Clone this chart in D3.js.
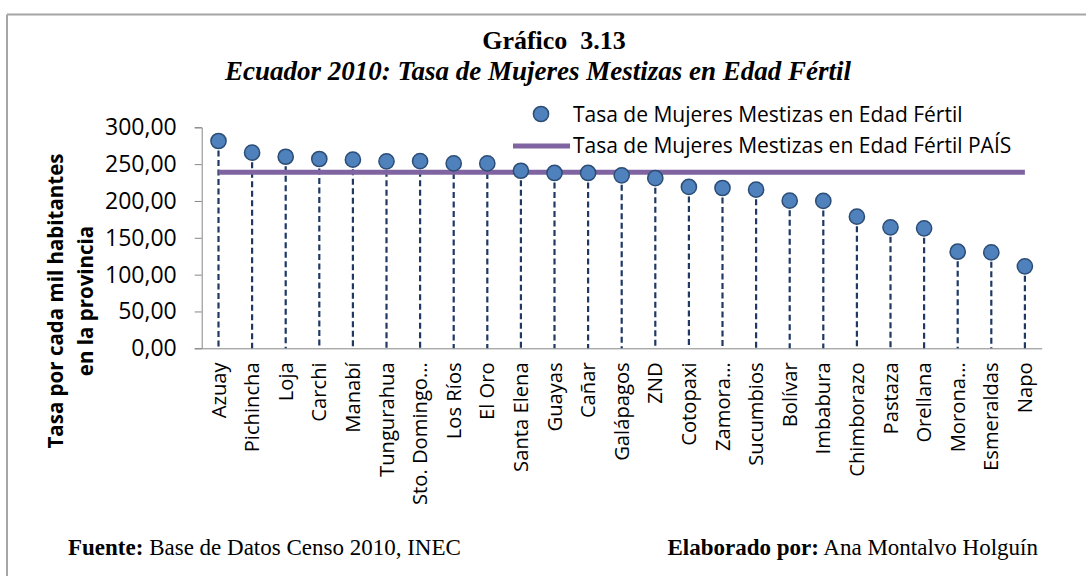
<!DOCTYPE html>
<html>
<head>
<meta charset="utf-8">
<script src="https://cdn.jsdelivr.net/npm/d3@7"></script>
<style>
  html, body { margin: 0; padding: 0; background: #fff; }
  svg { display: block; }
</style>
</head>
<body>
<svg id="chart" width="1086" height="576"></svg>
<script>
// Provinces, sorted by rate (women of child-bearing age per thousand inhabitants)
const provinces = ["Azuay", "Pichincha", "Loja", "Carchi", "Manabí", "Tungurahua",
  "Sto. Domingo…", "Los Ríos", "El Oro", "Santa Elena", "Guayas", "Cañar",
  "Galápagos", "ZND", "Cotopaxi", "Zamora…", "Sucumbios", "Bolívar", "Imbabura",
  "Chimborazo", "Pastaza", "Orellana", "Morona…", "Esmeraldas", "Napo"];
const provinceRates = [281.4, 265.5, 260.0, 257.0, 256.0, 253.8, 254.0, 251.0, 251.0,
  241.0, 238.0, 238.0, 234.8, 231.0, 219.0, 217.6, 215.3, 200.4, 200.0, 178.7,
  164.2, 162.9, 131.1, 130.3, 111.3];
const countryRate = 238.9;
const yTicks = [0, 50, 100, 150, 200, 250, 300];
const seriesNames = ["Tasa de Mujeres Mestizas en Edad Fértil",
  "Tasa de Mujeres Mestizas en Edad Fértil PAÍS"];
const yTitleLines = ["Tasa por cada mil habitantes", "en la provincia"];

const svg = d3.select("#chart");
const sans = "'Open Sans', sans-serif";
const serif = "'Liberation Serif', 'Times New Roman', serif";

// Outer frame (top and left edges)
svg.append("line").attr("x1", 7).attr("x2", 1086).attr("y1", 14.5).attr("y2", 14.5)
  .attr("stroke", "#a6a6a6").attr("stroke-width", 2);
svg.append("line").attr("x1", 7).attr("x2", 7).attr("y1", 14.5).attr("y2", 576)
  .attr("stroke", "#a6a6a6").attr("stroke-width", 2);

// Titles
svg.append("text").attr("x", 554).attr("y", 49).attr("text-anchor", "middle")
  .attr("font-family", serif).attr("font-weight", "bold").attr("font-size", 26)
  .style("white-space", "pre").text("Gráfico  3.13");
svg.append("text").attr("x", 538).attr("y", 80).attr("text-anchor", "middle")
  .attr("font-family", serif).attr("font-weight", "bold").attr("font-style", "italic")
  .attr("font-size", 27)
  .text("Ecuador 2010: Tasa de Mujeres Mestizas en Edad Fértil");

// Scales
const x = d3.scaleBand().domain(provinces).range([201.7, 1041.7]);
const y = d3.scaleLinear().domain([0, 300]).range([348.3, 127.3]);
const cx = d => x(d) + x.bandwidth() / 2;

// Y axis
const yAxis = svg.append("g").attr("transform", "translate(201.7,0)")
  .call(d3.axisLeft(y).tickValues(yTicks).tickSize(7).tickPadding(18)
    .tickFormat(d => d3.format(".2f")(d).replace(".", ",")));
yAxis.selectAll("path, line").attr("stroke", "#868686");
yAxis.selectAll("text").attr("font-family", sans).attr("font-size", 23).attr("fill", "#000");

// X axis with vertical province labels
const xAxis = svg.append("g").attr("transform", "translate(0,348.3)")
  .call(d3.axisBottom(x).tickSize(0).tickPadding(14));
xAxis.select("path").attr("stroke", "#868686");
xAxis.selectAll("text").attr("font-family", sans).attr("font-size", 20.2).attr("fill", "#000")
  .attr("transform", "rotate(-90)").attr("text-anchor", "end")
  .attr("x", -14).attr("y", 0).attr("dy", "0.35em");

// Y axis title (two lines)
yTitleLines.forEach((t, i) => {
  svg.append("text").attr("transform", `translate(${[62.5, 93][i]},301) rotate(-90)`)
    .attr("font-family", sans).attr("font-weight", "bold").attr("font-size", 20.5)
    .attr("text-anchor", "middle").attr("fill", "#000").text(t);
});

// Drop lines from each point to the axis
svg.append("g").selectAll("line").data(provinces).join("line")
  .attr("x1", cx).attr("x2", cx)
  .attr("y1", (d, i) => y(provinceRates[i])).attr("y2", y(0))
  .attr("stroke", "#1f3864").attr("stroke-width", 2.2).attr("stroke-dasharray", "6,3.5");

// National rate line
svg.append("line")
  .attr("x1", cx(provinces[0])).attr("x2", cx(provinces[provinces.length - 1]))
  .attr("y1", y(countryRate)).attr("y2", y(countryRate))
  .attr("stroke", "#8064a2").attr("stroke-width", 5);

// Province markers
svg.append("g").selectAll("circle").data(provinces).join("circle")
  .attr("cx", cx)
  .attr("cy", (d, i) => y(provinceRates[i]))
  .attr("r", 7.6).attr("fill", "#4f81bd").attr("stroke", "#2c4d75").attr("stroke-width", 1.5);

// Legend
const lg = svg.append("g");
lg.append("circle").attr("cx", 541).attr("cy", 114).attr("r", 7.6)
  .attr("fill", "#4f81bd").attr("stroke", "#2c4d75").attr("stroke-width", 1.5);
lg.append("text").attr("x", 573).attr("y", 122).attr("font-family", sans)
  .attr("font-size", 21).attr("fill", "#000").text(seriesNames[0]);
lg.append("line").attr("x1", 513).attr("x2", 570).attr("y1", 146).attr("y2", 146)
  .attr("stroke", "#8064a2").attr("stroke-width", 5);
lg.append("text").attr("x", 573).attr("y", 153).attr("font-family", sans)
  .attr("font-size", 21).attr("fill", "#000").text(seriesNames[1]);

// Footer
const f1 = svg.append("text").attr("x", 68).attr("y", 555).attr("font-family", serif)
  .attr("font-size", 23).attr("fill", "#000");
f1.append("tspan").attr("font-weight", "bold").text("Fuente:");
f1.append("tspan").text(" Base de Datos Censo 2010, INEC");
const f2 = svg.append("text").attr("x", 1038).attr("y", 555).attr("font-family", serif)
  .attr("font-size", 23).attr("fill", "#000").attr("text-anchor", "end");
f2.append("tspan").attr("font-weight", "bold").text("Elaborado por:");
f2.append("tspan").text(" Ana Montalvo Holguín");
</script>
</body>
</html>
